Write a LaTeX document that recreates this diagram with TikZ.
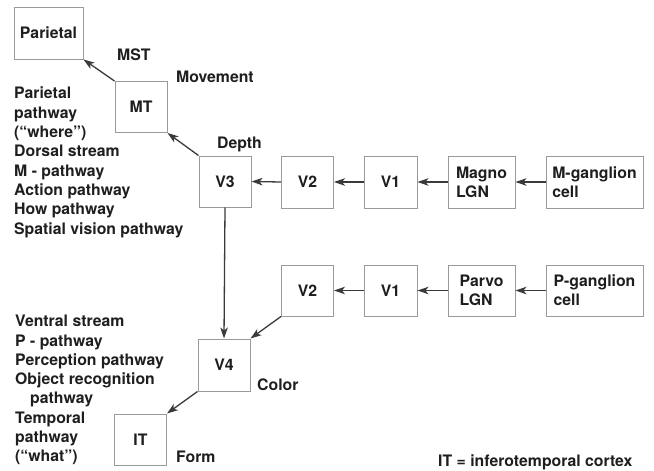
\documentclass[tikz,border=0pt]{standalone}
\usepackage{fontspec}
\setmainfont{TeX Gyre Heros}
\usetikzlibrary{arrows.meta}
\definecolor{txt}{HTML}{1E1E1E}
\definecolor{boxline}{HTML}{9A9A9A}
\definecolor{arr}{HTML}{3A3A3A}
\begin{document}
\begin{tikzpicture}[x=1pt,y=-1pt,
  every node/.style={font=\fontsize{15.8}{19.3}\selectfont\bfseries, text=txt},
  box/.style={draw=boxline, line width=1pt, fill=white, minimum width=52pt, minimum height=51pt, inner sep=0pt, align=left},
  lbl/.style={anchor=base west, inner sep=0pt},
  blk/.style={anchor=north west, inner sep=0pt, align=left},
  conn/.style={draw=arr, line width=1.3pt, -{Stealth[length=11pt,width=7.5pt,inset=3pt]}}]
\useasboundingbox (0,0) rectangle (654,471);
% boxes
\node[box, minimum width=69pt, minimum height=52pt] (par) at (48.5,33) {Parietal};
\node[box] (mt) at (141,107) {MT};
\node[box] (v3) at (225,181.5) {V3};
\node[box, minimum height=52pt] (v2a) at (307.5,182) {V2};
\node[box, minimum height=52pt, minimum width=53pt] (v1a) at (390.5,182) {V1};
\node[box, minimum height=52pt, minimum width=67pt] (magno) at (481.5,182) {Magno\\LGN};
\node[box, minimum height=52pt, minimum width=97pt] (mg) at (594.5,182) {M-ganglion\\cell};
\node[box] (v2b) at (307.5,290.5) {V2};
\node[box, minimum width=53pt] (v1b) at (390.5,290.5) {V1};
\node[box, minimum width=67pt] (parvo) at (481.5,290.5) {Parvo\\LGN};
\node[box, minimum width=97pt] (pg) at (594.5,290.5) {P-ganglion\\cell};
\node[box, minimum height=52pt] (v4) at (224,365) {V4};
\node[box] (it) at (140.5,439.5) {IT};
% connectors
\draw[conn] (mt.north west) -- (par.south east);
\draw[conn] (v3.north west) -- (mt.south east);
\draw[conn] (v2a.west) -- (v3.east);
\draw[conn] (v1a.west) -- (v2a.east);
\draw[conn] (magno.west) -- (v1a.east);
\draw[conn] (mg.west) -- (magno.east);
\draw[conn] (v1b.west) -- (v2b.east);
\draw[conn] (parvo.west) -- (v1b.east);
\draw[conn] (pg.west) -- (parvo.east);
\draw[conn] (v3.south) -- (v4.north);
\draw[conn] (v2b.south west) -- (v4.north east);
\draw[conn] (v4.south west) -- (it.north east);
% labels
\node[lbl] (mst) at (117,60) {MST};
\node[lbl] (mov) at (176,82) {Movement};
\node[lbl] (dep) at (217,148) {Depth};
\node[lbl] (col) at (257,390) {Color};
\node[lbl] (frm) at (176,462) {Form};
\node[lbl] (leg) at (438,466) {IT = inferotemporal cortex};
\node[blk] (dorsal) at (14,87) {Parietal\\pathway\\(“where”)\\Dorsal stream\\M - pathway\\Action pathway\\How pathway\\Spatial vision pathway};
\node[blk] (ventral) at (15,315) {Ventral stream\\P - pathway\\Perception pathway\\Object recognition\\\hspace*{15pt}pathway\\Temporal\\pathway\\(“what”)};
\end{tikzpicture}
\end{document}
